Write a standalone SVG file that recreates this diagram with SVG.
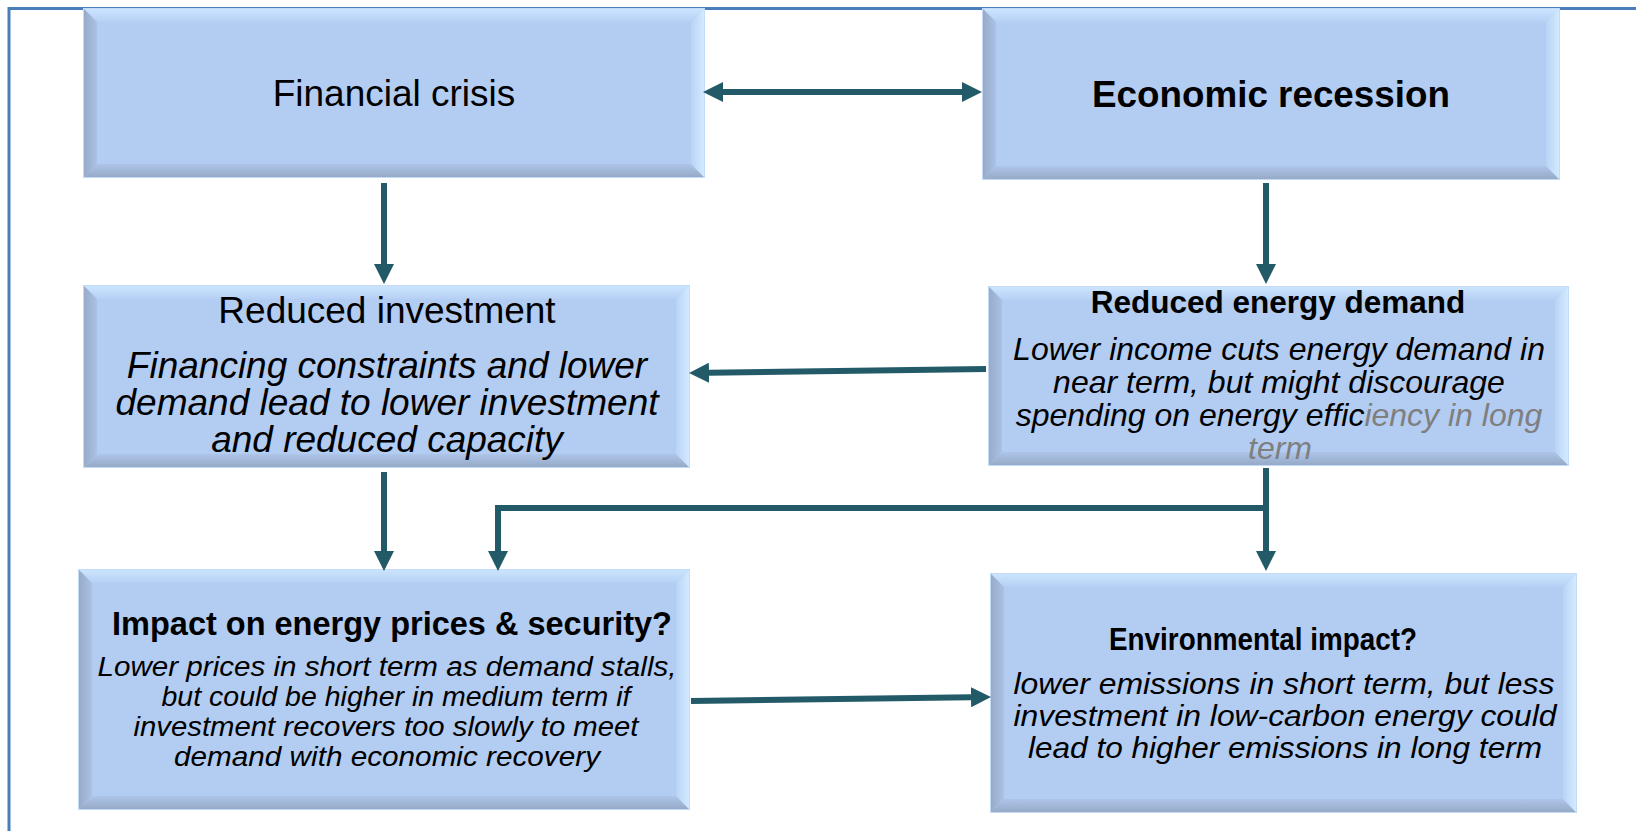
<svg xmlns="http://www.w3.org/2000/svg" width="1636" height="831" viewBox="0 0 1636 831">
<defs>
<linearGradient id="gTop" x1="0" y1="0" x2="0" y2="1"><stop offset="0" stop-color="#cbe4fe"/><stop offset="1" stop-color="#b6d0f5"/></linearGradient>
<linearGradient id="gLeft" x1="0" y1="0" x2="1" y2="0"><stop offset="0" stop-color="#98abc8"/><stop offset="1" stop-color="#aac2e6"/></linearGradient>
<linearGradient id="gBottom" x1="0" y1="0" x2="0" y2="1"><stop offset="0" stop-color="#adc5e9"/><stop offset="1" stop-color="#97aac7"/></linearGradient>
<linearGradient id="gRight" x1="0" y1="0" x2="1" y2="0"><stop offset="0" stop-color="#b8d3f6"/><stop offset="1" stop-color="#d3eafe"/></linearGradient>
<marker id="ah" markerUnits="userSpaceOnUse" markerWidth="20" markerHeight="20" refX="0" refY="10" orient="auto-start-reverse" viewBox="0 0 20 20">
<path d="M0,0 L20,10 L0,20 z" fill="#235a68"/>
</marker>
<style>
.face{fill:#b3ccf2;stroke:#c4dbf7;stroke-width:2}
.bt{fill:url(#gTop)}
.bl{fill:url(#gLeft)}
.bb{fill:url(#gBottom)}
.br{fill:url(#gRight)}
.conn{fill:none;stroke:#235a68;stroke-width:6;stroke-linejoin:miter}
.t{font-family:"Liberation Sans",Arial,sans-serif;fill:#000;text-anchor:middle}
.b{font-weight:bold}
.i{font-style:italic}
.gray{fill:#7f7f7f}
</style>
</defs>
<rect width="1636" height="831" fill="#fff"/>
<path d="M9,831 V8.5 H1636" fill="none" stroke="#4a7ebb" stroke-width="3"/>

<g id="financial-crisis">
<rect class="face" x="84" y="9" width="620" height="168"/>
<polygon class="bt" points="84,9 704,9 691,22 97,22"/>
<polygon class="bl" points="84,9 97,22 97,164 84,177"/>
<polygon class="bb" points="84,177 97,164 691,164 704,177"/>
<polygon class="br" points="704,9 704,177 691,164 691,22"/>
<text class="t" x="394" y="106" font-size="37">Financial crisis</text>
</g>

<g id="economic-recession">
<rect class="face" x="983" y="9" width="576" height="170"/>
<polygon class="bt" points="983,9 1559,9 1546,22 996,22"/>
<polygon class="bl" points="983,9 996,22 996,166 983,179"/>
<polygon class="bb" points="983,179 996,166 1546,166 1559,179"/>
<polygon class="br" points="1559,9 1559,179 1546,166 1546,22"/>
<text class="t b" x="1271" y="107" font-size="36.8">Economic recession</text>
</g>

<g id="reduced-investment">
<rect class="face" x="84" y="286" width="605" height="181"/>
<polygon class="bt" points="84,286 689,286 676,299 97,299"/>
<polygon class="bl" points="84,286 97,299 97,454 84,467"/>
<polygon class="bb" points="84,467 97,454 676,454 689,467"/>
<polygon class="br" points="689,286 689,467 676,454 676,299"/>
<text class="t" x="387" y="323" font-size="37">Reduced investment</text>
<text class="t i" x="387" y="378" font-size="37">Financing constraints and lower</text>
<text class="t i" x="387" y="415" font-size="37">demand lead to lower investment</text>
<text class="t i" x="387" y="452" font-size="37">and reduced capacity</text>
</g>

<g id="reduced-energy-demand">
<rect class="face" x="989" y="287" width="579" height="178"/>
<polygon class="bt" points="989,287 1568,287 1555,300 1002,300"/>
<polygon class="bl" points="989,287 1002,300 1002,452 989,465"/>
<polygon class="bb" points="989,465 1002,452 1555,452 1568,465"/>
<polygon class="br" points="1568,287 1568,465 1555,452 1555,300"/>
<text class="t b" x="1278" y="313" font-size="31.5">Reduced energy demand</text>
<text class="t i" x="1279" y="360" font-size="32">Lower income cuts energy demand in</text>
<text class="t i" x="1279" y="393" font-size="32">near term, but might discourage</text>
<text class="t i" x="1279" y="426" font-size="32">spending on energy effic<tspan class="gray">iency in long</tspan></text>
<text class="t i gray" x="1280" y="459" font-size="32">term</text>
</g>

<g id="energy-prices-security">
<rect class="face" x="79" y="570" width="610" height="239"/>
<polygon class="bt" points="79,570 689,570 676,583 92,583"/>
<polygon class="bl" points="79,570 92,583 92,796 79,809"/>
<polygon class="bb" points="79,809 92,796 676,796 689,809"/>
<polygon class="br" points="689,570 689,809 676,796 676,583"/>
<text class="t b" x="392" y="635" font-size="32.5">Impact on energy prices &amp; security?</text>
<text class="t i" x="387" y="676" font-size="27" textLength="579" lengthAdjust="spacingAndGlyphs">Lower prices in short term as demand stalls,</text>
<text class="t i" x="396" y="706" font-size="27" textLength="469" lengthAdjust="spacingAndGlyphs">but could be higher in medium term if</text>
<text class="t i" x="386" y="736" font-size="27" textLength="505" lengthAdjust="spacingAndGlyphs">investment recovers too slowly to meet</text>
<text class="t i" x="387" y="766" font-size="27" textLength="426" lengthAdjust="spacingAndGlyphs">demand with economic recovery</text>
</g>

<g id="environmental-impact">
<rect class="face" x="991" y="574" width="585" height="238"/>
<polygon class="bt" points="991,574 1576,574 1563,587 1004,587"/>
<polygon class="bl" points="991,574 1004,587 1004,799 991,812"/>
<polygon class="bb" points="991,812 1004,799 1563,799 1576,812"/>
<polygon class="br" points="1576,574 1576,812 1563,799 1563,587"/>
<text class="t b" x="1263" y="650" font-size="32" textLength="308" lengthAdjust="spacingAndGlyphs">Environmental impact?</text>
<text class="t i" x="1284" y="694" font-size="29" textLength="541" lengthAdjust="spacingAndGlyphs">lower emissions in short term, but less</text>
<text class="t i" x="1285" y="726" font-size="29" textLength="543" lengthAdjust="spacingAndGlyphs">investment in low-carbon energy could</text>
<text class="t i" x="1285" y="758" font-size="29" textLength="514" lengthAdjust="spacingAndGlyphs">lead to higher emissions in long term</text>
</g>

<g id="connectors">
<line class="conn" x1="723" y1="92" x2="962" y2="92" marker-start="url(#ah)" marker-end="url(#ah)"/>
<line class="conn" x1="384" y1="183" x2="384" y2="264" marker-end="url(#ah)"/>
<line class="conn" x1="1266" y1="183" x2="1266" y2="264" marker-end="url(#ah)"/>
<line class="conn" x1="986" y1="369" x2="709" y2="372.7" marker-end="url(#ah)"/>
<line class="conn" x1="384" y1="472" x2="384" y2="551" marker-end="url(#ah)"/>
<line class="conn" x1="1266" y1="468" x2="1266" y2="551" marker-end="url(#ah)"/>
<polyline class="conn" points="1266,508 498,508 498,551" marker-end="url(#ah)"/>
<line class="conn" x1="691" y1="701" x2="971" y2="697.3" marker-end="url(#ah)"/>
</g>
</svg>
